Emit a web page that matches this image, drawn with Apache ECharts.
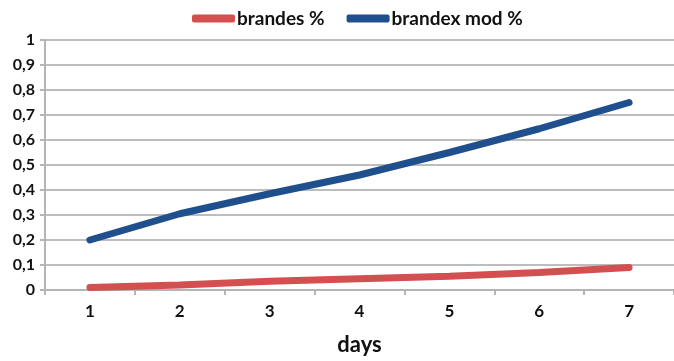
<!DOCTYPE html>
<html>
<head>
<meta charset="utf-8">
<script src="https://cdn.jsdelivr.net/npm/echarts@6/dist/echarts.min.js"></script>
<style>
  html, body { margin: 0; padding: 0; background: #fff; }
  #chart { width: 674px; height: 361px; }
</style>
</head>
<body>
<div id="chart"></div>
<script>
// chart data
const days = ['1', '2', '3', '4', '5', '6', '7'];
const brandes = [0.01, 0.02, 0.035, 0.045, 0.055, 0.07, 0.09];
const brandexMod = [0.2, 0.305, 0.385, 0.46, 0.55, 0.645, 0.75];
const seriesNames = ['brandes %', 'brandex mod %'];

const font = 'Lato, "Open Sans", sans-serif';
const chart = echarts.init(document.getElementById('chart'));

chart.setOption({
    animation: false,
    backgroundColor: '#fff',
    legend: {
        top: 4,
        left: 187,
        itemWidth: 43,
        itemHeight: 8,
        itemGap: 22,
        icon: 'roundRect',
        textStyle: {
            fontFamily: font, fontWeight: 'bold', fontSize: 19, color: '#111',
            padding: [0, 0, 0, -3]
        },
        data: seriesNames
    },
    grid: { left: 45, width: 637, top: 40, bottom: 70 },
    xAxis: {
        type: 'category',
        data: days,
        name: 'days',
        nameLocation: 'middle',
        nameGap: 44,
        nameTextStyle: { fontFamily: font, fontWeight: 'bold', fontSize: 22, color: '#111' },
        axisLine: { lineStyle: { color: '#b5b5b5', width: 2 } },
        axisTick: { show: true, length: 5, lineStyle: { color: '#b5b5b5', width: 2 } },
        axisLabel: { fontFamily: font, fontWeight: 'bold', fontSize: 17, color: '#111', margin: 13 }
    },
    yAxis: {
        type: 'value',
        min: 0,
        max: 1,
        interval: 0.1,
        axisLine: { show: true, lineStyle: { color: '#b5b5b5', width: 2 } },
        axisTick: { show: true, length: 5, lineStyle: { color: '#b5b5b5', width: 2 } },
        splitLine: { lineStyle: { color: '#bdbdbd', width: 2 } },
        axisLabel: {
            fontFamily: font, fontWeight: 'bold', fontSize: 16, color: '#111', margin: 10,
            formatter: v => String(Math.round(v * 10) / 10).replace('.', ',')
        }
    },
    series: [
        {
            name: seriesNames[0],
            type: 'line',
            data: brandes,
            symbol: 'none',
            lineStyle: { color: '#d44f50', width: 7, cap: 'round' },
            itemStyle: { color: '#d44f50' }
        },
        {
            name: seriesNames[1],
            type: 'line',
            data: brandexMod,
            symbol: 'none',
            lineStyle: { color: '#204f8d', width: 7, cap: 'round' },
            itemStyle: { color: '#204f8d' }
        }
    ]
});
</script>
</body>
</html>
